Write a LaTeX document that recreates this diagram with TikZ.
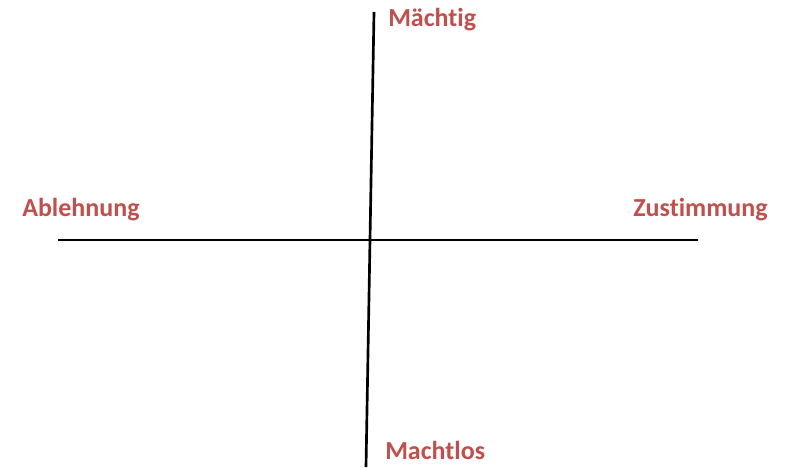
\documentclass[tikz,border=0pt]{standalone}
\usepackage{fontspec}
\setmainfont{Carlito}[Ligatures=NoCommon]
\definecolor{axislabel}{RGB}{192,80,77}

\begin{document}
\begin{tikzpicture}[x=0.75pt,y=0.75pt,yscale=-1,xscale=1]
\tikzset{axis/.style={line width=2pt, black}, axlabel/.style={text=axislabel, font=\fontsize{19.5}{23}\selectfont\bfseries, inner sep=0pt}}
\useasboundingbox (0,0) rectangle (787,467);

%Axis ends
\coordinate (left) at (58,240);
\coordinate (right) at (698,240);
\coordinate (top) at (374,12);
\coordinate (bottom) at (366,467);
%Straight Lines [horizontal]
\draw[axis] (left) -- (right) ;
%Straight Lines [vertical]
\draw[axis] (top) -- (bottom) ;

%Labels
\node[axlabel, anchor=west] (maechtig) at (388,20) {Mächtig};
\node[axlabel, anchor=west] (machtlos) at (385,450) {Machtlos};
\node[axlabel, anchor=west] (ablehnung) at (22,210) {Ablehnung};
\node[axlabel, anchor=west] (zustimmung) at (633,210) {Zustimmung};

\end{tikzpicture}
\end{document}
